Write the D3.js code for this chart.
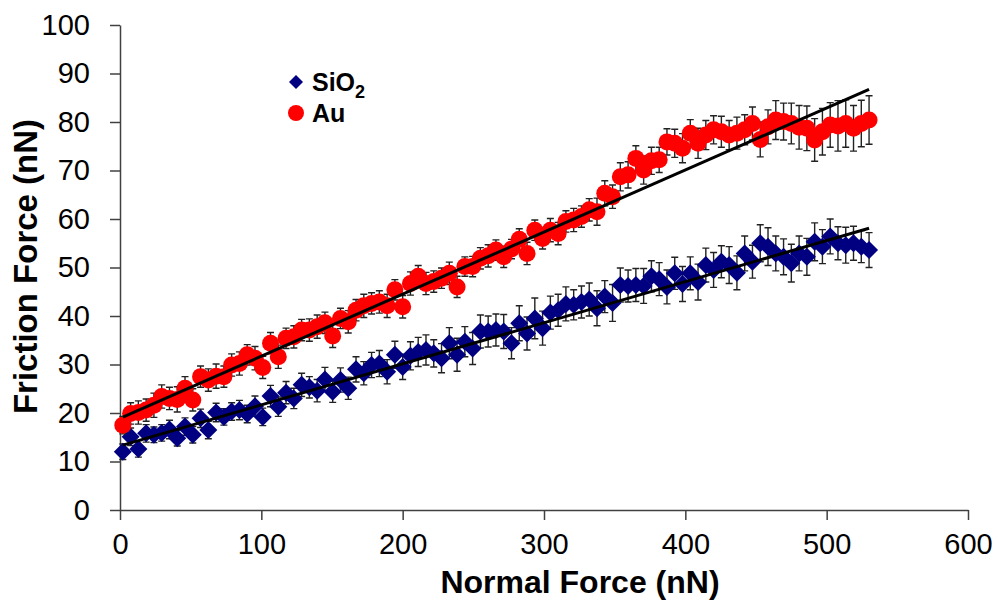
<!DOCTYPE html>
<html>
<head>
<meta charset="utf-8">
<script src="https://cdn.jsdelivr.net/npm/d3@7"></script>
<style>
  body {margin: 0; background: #fff;}
  svg text {font-family: "Liberation Sans", Arial, sans-serif;}
  .tick text {font-size: 29px; fill: #000;}
  .axis path, .axis line {stroke: #404040; stroke-width: 1.5px;}
</style>
</head>
<body>
<div id="chart"></div>
<script>
//-- Data
var normal_force = [
  2, 7.5, 13, 18.5, 24, 29.5, 35, 40.5, 46, 51.5, 57, 62.5, 68, 73.5, 79, 84.5,
  90, 95.5, 101, 106.5, 112, 117.5, 123, 128.5, 134, 139.5, 145, 150.5, 156, 161.5,
  167, 172.5, 178, 183.5, 189, 194.5, 200, 205.5, 211, 216.5, 222, 227.5, 233, 238.5,
  244, 249.5, 255, 260.5, 266, 271.5, 277, 282.5, 288, 293.5, 299, 304.5, 310, 315.5,
  321, 326.5, 332, 337.5, 343, 348.5, 354, 359.5, 365, 370.5, 376, 381.5, 387, 392.5,
  398, 403.5, 409, 414.5, 420, 425.5, 431, 436.5, 442, 447.5, 453, 458.5, 464, 469.5,
  475, 480.5, 486, 491.5, 497, 502.5, 508, 513.5, 519, 524.5, 530
];

var sio2_friction = [
  12.0, 15.1, 12.6, 15.8, 15.5, 15.9, 16.6, 14.8, 17.2, 15.5, 18.9, 16.5, 20.1, 19.2,
  20.3, 20.6, 19.8, 21.4, 19.2, 23.5, 21.3, 24.2, 23.0, 25.8, 25.3, 24.6, 26.9, 24.4,
  26.8, 25.1, 29.0, 28.2, 29.9, 30.2, 28.5, 32.0, 29.5, 31.8, 32.6, 33.0, 32.3, 31.3,
  34.4, 32.0, 34.7, 33.3, 36.8, 36.8, 37.1, 36.8, 34.4, 38.5, 36.4, 39.5, 37.5, 40.7,
  41.2, 42.5, 42.3, 42.9, 43.4, 41.6, 44.0, 42.7, 46.4, 46.2, 46.4, 46.2, 48.2, 47.6,
  46.0, 48.8, 46.6, 48.8, 47.0, 50.5, 49.5, 51.2, 50.5, 48.9, 52.9, 51.2, 55.0, 54.3,
  52.9, 52.2, 50.9, 52.9, 52.2, 55.3, 54.3, 56.4, 55.0, 54.6, 55.0, 54.3, 53.6
];

var sio2_error = [
  1.6, 1.8, 1.7, 1.8, 1.6, 1.7, 1.9, 1.6, 1.8, 1.7, 1.9, 1.8, 1.9, 1.7,
  1.8, 2.0, 1.8, 2.1, 1.8, 2.2, 2.0, 2.3, 2.1, 2.4, 2.2, 2.3, 2.5, 2.2,
  2.5, 2.3, 2.6, 2.4, 2.6, 2.7, 2.5, 2.8, 2.6, 2.9, 3.0, 3.1, 2.8, 3.0,
  3.2, 3.4, 3.1, 3.3, 3.4, 3.2, 3.3, 3.5, 3.2, 3.6, 3.4, 4.2, 3.5, 3.4,
  3.3, 3.5, 3.1, 3.3, 3.4, 3.6, 3.3, 3.8, 3.5, 3.3, 3.4, 3.6, 3.2, 3.4,
  3.5, 3.3, 3.6, 3.4, 3.7, 3.5, 3.6, 3.3, 3.8, 3.5, 3.6, 3.4, 3.8, 3.9,
  3.6, 3.7, 3.9, 3.6, 3.8, 3.9, 3.5, 3.6, 3.4, 3.7, 3.5, 3.3, 3.6
];

var au_friction = [
  17.5, 19.9, 20.1, 20.6, 21.6, 23.4, 23.0, 22.8, 25.1, 22.7, 27.5, 26.8, 27.6, 27.5,
  29.9, 30.2, 32.0, 31.3, 29.4, 34.4, 31.6, 35.4, 35.7, 37.1, 37.1, 37.8, 38.6, 35.9,
  39.5, 38.8, 41.2, 42.1, 42.6, 42.9, 42.1, 45.4, 41.9, 46.7, 48.2, 46.7, 47.1, 47.8,
  48.8, 46.0, 50.2, 50.2, 51.9, 52.4, 53.6, 52.2, 53.8, 55.8, 52.9, 57.7, 56.0, 57.7,
  57.0, 59.5, 59.8, 60.5, 61.9, 61.5, 65.3, 64.6, 68.7, 69.1, 72.5, 70.1, 72.0, 72.2,
  75.9, 75.6, 74.6, 77.7, 75.6, 77.3, 78.4, 78.0, 77.3, 77.7, 78.4, 79.7, 76.4, 79.0,
  80.4, 80.1, 79.7, 78.9, 78.7, 76.3, 78.0, 79.4, 79.2, 79.7, 78.7, 79.7, 80.4
];

var au_error = [
  1.8, 2.2, 2.4, 2.3, 2.5, 2.4, 2.3, 2.6, 2.4, 2.3, 2.2, 2.3, 2.5, 2.2,
  2.3, 2.4, 2.1, 2.4, 2.3, 2.2, 2.4, 2.1, 2.3, 2.2, 2.3, 2.4, 2.2, 2.4,
  2.1, 2.3, 2.2, 2.4, 2.2, 2.3, 2.4, 2.1, 2.3, 2.4, 2.2, 2.3, 2.2, 2.1,
  2.3, 2.2, 2.0, 2.1, 2.2, 2.3, 2.1, 2.2, 2.0, 2.2, 2.3, 2.1, 2.2, 2.4,
  2.3, 2.2, 2.4, 2.2, 2.3, 2.8, 2.6, 2.4, 2.9, 2.7, 2.6, 2.9, 2.8, 2.6,
  2.7, 2.9, 3.0, 2.8, 3.1, 3.0, 2.9, 3.2, 3.0, 3.3, 3.1, 3.4, 3.6, 3.5,
  4.0, 3.8, 4.2, 4.5, 4.6, 4.4, 4.8, 4.6, 5.2, 4.9, 4.7, 4.8, 5.0
];

//-- Linear trendlines [intercept, slope]
var sio2_fit = [13.2, 0.0847];
var au_fit = [18.9, 0.128];

var x_ticks = [0, 100, 200, 300, 400, 500, 600];
var y_ticks = [0, 10, 20, 30, 40, 50, 60, 70, 80, 90, 100];

function FF_Make_Canvas(wrap) {
  var tot_width = 995;
  var tot_height = 606;
  var margin = {left: 120, right: 27, bottom: 96, top: 25};
  var width = tot_width - margin.left - margin.right;
  var height = tot_height - margin.top - margin.bottom;

  var svg = d3.select(wrap.id)
    .append("svg")
      .attr("width", tot_width)
      .attr("height", tot_height)
    .append("g")
      .attr("transform", "translate(" + margin.left + "," + margin.top + ")");

  wrap.margin = margin;
  wrap.width = width;
  wrap.height = height;
  wrap.svg = svg;
}

function FF_Draw_Series(wrap, name, y_values, y_errors, color, shape) {
  var x = wrap.x, y = wrap.y;
  var data = normal_force.map(function (d, i) {return {x: d, y: y_values[i], e: y_errors[i]};});
  var cap = 3.5;
  var g = wrap.svg.append("g").attr("class", "series " + name);

  //-- Error bars
  g.selectAll(".err")
    .data(data)
    .enter()
    .append("path")
      .attr("class", "err")
      .attr("d", function (d) {
        var cx = x(d.x), y0 = y(d.y - d.e), y1 = y(d.y + d.e);
        return "M" + cx + "," + y0 + "V" + y1
          + "M" + (cx-cap) + "," + y1 + "H" + (cx+cap)
          + "M" + (cx-cap) + "," + y0 + "H" + (cx+cap);
      })
      .style("stroke", "#222")
      .style("stroke-width", 1.4)
      .style("fill", "none");

  //-- Markers
  if (shape == "diamond") {
    g.selectAll(".mark")
      .data(data)
      .enter()
      .append("path")
        .attr("class", "mark")
        .attr("d", "M0,-9L9,0L0,9L-9,0Z")
        .attr("transform", function (d) {return "translate(" + x(d.x) + "," + y(d.y) + ")";})
        .style("fill", color);
  }
  else {
    g.selectAll(".mark")
      .data(data)
      .enter()
      .append("circle")
        .attr("class", "mark")
        .attr("cx", function (d) {return x(d.x);})
        .attr("cy", function (d) {return y(d.y);})
        .attr("r", 8.5)
        .style("fill", color);
  }
}

function FF_Draw_Fit(wrap, fit) {
  var x0 = normal_force[0];
  var x1 = normal_force[normal_force.length-1];
  wrap.svg.append("line")
    .attr("class", "fit")
    .attr("x1", wrap.x(x0))
    .attr("y1", wrap.y(fit[0] + fit[1]*x0))
    .attr("x2", wrap.x(x1))
    .attr("y2", wrap.y(fit[0] + fit[1]*x1))
    .style("stroke", "#000")
    .style("stroke-width", 3);
}

function FF_initialize(wrap) {
  var x = d3.scaleLinear()
    .domain([0, 600])
    .range([0, wrap.width]);

  var y = d3.scaleLinear()
    .domain([0, 100])
    .range([wrap.height, 0]);

  wrap.x = x;
  wrap.y = y;

  //-- Axes
  var x_axis = d3.axisBottom(x)
    .tickValues(x_ticks)
    .tickSize(10)
    .tickSizeOuter(0)
    .tickPadding(13);

  wrap.svg.append("g")
    .attr("class", "axis xaxis")
    .attr("transform", "translate(0," + wrap.height + ")")
    .call(x_axis);

  var y_axis = d3.axisLeft(y)
    .tickValues(y_ticks)
    .tickSize(10)
    .tickSizeOuter(0)
    .tickPadding(20);

  wrap.svg.append("g")
    .attr("class", "axis yaxis")
    .call(y_axis);

  //-- Axis titles
  wrap.svg.append("text")
    .attr("x", 460)
    .attr("y", wrap.height + 83)
    .attr("text-anchor", "middle")
    .style("font-size", "32px")
    .style("font-weight", "bold")
    .text("Normal Force (nN)");

  wrap.svg.append("text")
    .attr("transform", "translate(" + (-wrap.margin.left + 37) + "," + (wrap.height/2 - 1) + ") rotate(-90)")
    .attr("text-anchor", "middle")
    .style("font-size", "33px")
    .style("font-weight", "bold")
    .text("Friction Force (nN)");

  //-- Series
  FF_Draw_Series(wrap, "sio2", sio2_friction, sio2_error, "#000080", "diamond");
  FF_Draw_Series(wrap, "au", au_friction, au_error, "#ff0000", "circle");

  //-- Trendlines
  FF_Draw_Fit(wrap, sio2_fit);
  FF_Draw_Fit(wrap, au_fit);

  //-- Legend
  var lg = wrap.svg.append("g")
    .attr("class", "legend")
    .attr("transform", "translate(" + (296 - wrap.margin.left) + "," + (82 - wrap.margin.top) + ")");

  lg.append("path")
    .attr("d", "M0,-7L7,0L0,7L-7,0Z")
    .style("fill", "#000080");

  lg.append("circle")
    .attr("cx", 0)
    .attr("cy", 31)
    .attr("r", 8)
    .style("fill", "#ff0000");

  var t1 = lg.append("text")
    .attr("x", 16)
    .attr("y", 9)
    .style("font-size", "25px")
    .style("font-weight", "bold");
  t1.append("tspan").text("SiO");
  t1.append("tspan")
    .attr("dy", 7)
    .style("font-size", "18px")
    .text("2");

  lg.append("text")
    .attr("x", 16)
    .attr("y", 40)
    .style("font-size", "25px")
    .style("font-weight", "bold")
    .text("Au");
}

var wrap = {id: "#chart"};
FF_Make_Canvas(wrap);
FF_initialize(wrap);
</script>
</body>
</html>
